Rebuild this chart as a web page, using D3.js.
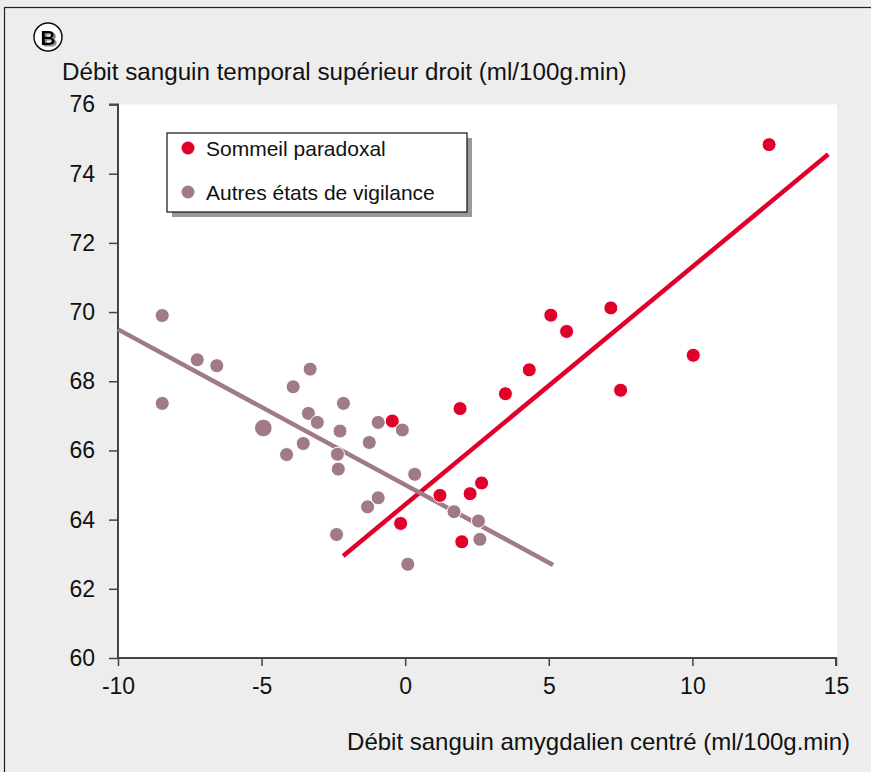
<!DOCTYPE html>
<html>
<head>
<meta charset="utf-8">
<script src="https://cdn.jsdelivr.net/npm/d3@7"></script>
<style>
  html, body { margin: 0; padding: 0; background: #ededed; }
  svg { display: block; font-family: "Liberation Sans", Arial, sans-serif; }
</style>
</head>
<body>
<div id="chart"></div>
<script>
// Sommeil paradoxal (x = amygdale, y = temporal)
var sommeilX = [12.67, 10.03, 7.16, 7.50, 5.62, 5.07, 4.32, 3.49, -0.45, 1.91, 1.21, 2.26, 2.66, -0.16, 1.97];
var sommeilY = [74.84, 68.75, 70.12, 67.74, 69.44, 69.91, 68.33, 67.64, 66.85, 67.21, 64.70, 64.75, 65.06, 63.89, 63.36];

// Autres états de vigilance (n = nombre d'observations superposées)
var autresX = [-8.46, -8.46, -7.24, -6.56, -4.94, -4.13, -3.90, -3.31, -3.37, -3.06, -3.55, -2.15, -2.27, -2.36, -2.33, -2.39, -0.94, -0.10, -1.25, 0.33, -0.94, -1.31, 0.09, 1.70, 2.55, 2.60];
var autresY = [69.90, 67.36, 68.62, 68.45, 66.65, 65.88, 67.84, 68.35, 67.07, 66.81, 66.20, 67.36, 66.56, 65.89, 65.46, 63.57, 66.81, 66.59, 66.23, 65.31, 64.63, 64.37, 62.71, 64.23, 63.96, 63.43];
var autresN = [1, 1, 1, 1, 2, 1, 1, 1, 1, 1, 1, 1, 1, 1, 1, 1, 1, 1, 1, 1, 1, 1, 1, 1, 1, 1];

// droites de régression (extrémités)
var fitSommeilX = [-2.16, 14.73];
var fitSommeilY = [62.95, 74.56];
var fitAutresX = [-10, 5.15];
var fitAutresY = [69.50, 62.69];

var xTicks = [-10, -5, 0, 5, 10, 15];
var yTicks = [60, 62, 64, 66, 68, 70, 72, 74, 76];

var legendLabels = ['Sommeil paradoxal', 'Autres états de vigilance'];
var red = '#e2002b', mauve = '#a07a85';

var width = 871, height = 772;
var margin = {left: 118, right: 35, top: 104.5, bottom: 114};

var svg = d3.select('#chart').append('svg')
  .attr('width', width)
  .attr('height', height);

var defs = svg.append('defs');
defs.append('filter').attr('id', 'ombre')
  .append('feDropShadow')
  .attr('dx', 2).attr('dy', 1.5).attr('stdDeviation', 0.4)
  .attr('flood-color', '#888').attr('flood-opacity', 1);

// cadre
svg.append('rect')
  .attr('x', 4.5).attr('y', 7.5)
  .attr('width', width + 20).attr('height', height + 20)
  .attr('fill', '#ededed')
  .attr('stroke', '#222').attr('stroke-width', 1.2);

var x = d3.scaleLinear().domain([-10, 15]).range([margin.left, width - margin.right]);
var y = d3.scaleLinear().domain([60, 76]).range([height - margin.bottom, margin.top]);

svg.append('rect')
  .attr('x', x(-10)).attr('y', y(76))
  .attr('width', x(15) - x(-10) + 1).attr('height', y(60) - y(76))
  .attr('fill', '#fff');

// axes
var fmt = function(d) { return String(d); };
var xAxis = svg.append('g')
  .attr('transform', 'translate(0,' + y(60) + ')')
  .call(d3.axisBottom(x).tickValues(xTicks).tickSize(8).tickPadding(12).tickFormat(fmt));
var yAxis = svg.append('g')
  .attr('transform', 'translate(' + x(-10) + ',0)')
  .call(d3.axisLeft(y).tickValues(yTicks).tickSize(9).tickPadding(14).tickFormat(fmt));

[xAxis, yAxis].forEach(function(g) {
  g.select('.domain').attr('stroke', '#444').attr('stroke-width', 2);
  g.selectAll('.tick line').attr('stroke', '#444').attr('stroke-width', 1.5);
  g.selectAll('.tick text').attr('fill', '#111').style('font-size', '23px').style('font-family', '"Liberation Sans", Arial, sans-serif');
});
xAxis.select('.domain').attr('d', 'M' + x(-10) + ',0H' + x(15) + 'V8');
yAxis.select('.domain').attr('d', 'M-9,' + y(76) + 'H0V' + y(60));

// titres
svg.append('text')
  .attr('x', 62).attr('y', 80)
  .attr('fill', '#111').style('font-size', '24.2px')
  .text('Débit sanguin temporal supérieur droit (ml/100g.min)');
svg.append('text')
  .attr('x', 850).attr('y', 750)
  .attr('text-anchor', 'end')
  .attr('fill', '#111').style('font-size', '24px')
  .text('Débit sanguin amygdalien centré (ml/100g.min)');

// droites
var line = d3.line().x(function(d) { return x(d[0]); }).y(function(d) { return y(d[1]); });
svg.append('path')
  .datum(d3.zip(fitSommeilX, fitSommeilY))
  .attr('d', line).attr('fill', 'none')
  .attr('stroke', red).attr('stroke-width', 4.5);
svg.append('path')
  .datum(d3.zip(fitAutresX, fitAutresY))
  .attr('d', line).attr('fill', 'none')
  .attr('stroke', mauve).attr('stroke-width', 4.5);

// points
svg.append('g').selectAll('circle')
  .data(d3.zip(sommeilX, sommeilY)).enter().append('circle')
  .attr('cx', function(d) { return x(d[0]); })
  .attr('cy', function(d) { return y(d[1]); })
  .attr('r', 7)
  .attr('fill', red).attr('stroke', '#fff').attr('stroke-width', 1);
svg.append('g').selectAll('circle')
  .data(d3.zip(autresX, autresY, autresN)).enter().append('circle')
  .attr('cx', function(d) { return x(d[0]); })
  .attr('cy', function(d) { return y(d[1]); })
  .attr('r', function(d) { return d[2] > 1 ? 8.8 : 7; })
  .attr('fill', mauve).attr('stroke', '#fff').attr('stroke-width', 1);

// légende
var legend = svg.append('g').attr('transform', 'translate(167,133)');
legend.append('rect')
  .attr('x', 5).attr('y', 5).attr('width', 300).attr('height', 79)
  .attr('fill', '#999');
legend.append('rect')
  .attr('x', 0).attr('y', 0).attr('width', 300).attr('height', 79)
  .attr('fill', '#fff').attr('stroke', '#111').attr('stroke-width', 1.2);
var items = legend.selectAll('g.item')
  .data(legendLabels).enter().append('g')
  .attr('transform', function(d, i) { return 'translate(0,' + (15 + i * 44) + ')'; });
items.append('circle')
  .attr('cx', 21).attr('cy', 0).attr('r', 6.5)
  .attr('fill', function(d, i) { return i === 0 ? red : mauve; });
items.append('text')
  .attr('x', 39).attr('y', 8)
  .attr('fill', '#111').style('font-size', '21px')
  .text(function(d) { return d; });

// pastille B
svg.append('circle').attr('cx', 48).attr('cy', 37).attr('r', 14)
  .attr('fill', '#fff').attr('stroke', '#111').attr('stroke-width', 1.5);
svg.append('text').attr('x', 48).attr('y', 44.5)
  .attr('text-anchor', 'middle').attr('fill', '#000')
  .attr('filter', 'url(#ombre)')
  .style('font-size', '21px').style('font-weight', 'bold').text('B');
</script>
</body>
</html>
